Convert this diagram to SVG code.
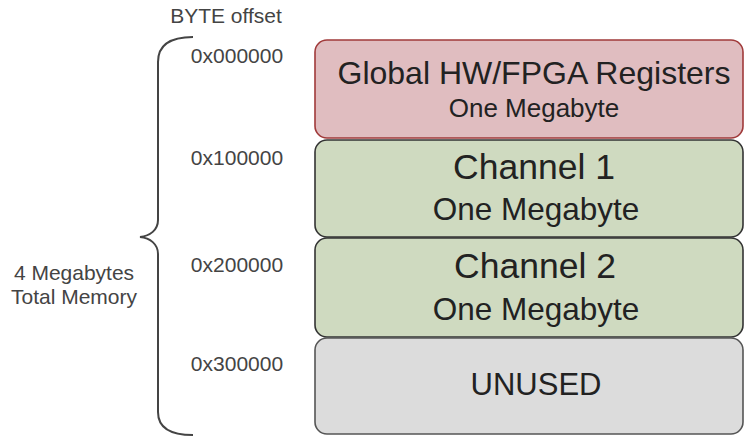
<svg xmlns="http://www.w3.org/2000/svg" width="746" height="436" viewBox="0 0 746 436">
  <style>
    text { font-family: "Liberation Sans", Arial, sans-serif; }
    .lbl { font-size: 21px; fill: #444; text-anchor: middle; }
    .box { stroke-width: 1.6; }
    .t { fill: #222; text-anchor: middle; }
    .red { fill: #e0bdc0; stroke: #a03a3a; }
    .green { fill: #cfdac0; stroke: #333; }
    .gray { fill: #dcdcdc; stroke: #555; }
  </style>
  <rect width="746" height="436" fill="#fff"/>
  <g id="header">
    <text class="lbl" x="226" y="23">BYTE offset</text>
  </g>
  <g id="offsets">
    <text class="lbl" x="237" y="63">0x000000</text>
    <text class="lbl" x="237" y="165">0x100000</text>
    <text class="lbl" x="237" y="272">0x200000</text>
    <text class="lbl" x="237" y="371">0x300000</text>
  </g>
  <g id="total">
    <text class="lbl" x="74" y="280">4 Megabytes</text>
    <text class="lbl" x="74" y="304">Total Memory</text>
  </g>
  <g id="connectors">
    <path d="M193,37 C170,37 158,45 158,62 L158,220 C158,230 150,236 140,237 C150,238 158,244 158,254 L158,412 C158,428 170,435 193,435" fill="none" stroke="#444" stroke-width="2"/>
  </g>
  <g id="global">
    <rect class="box red" x="315" y="40" width="428" height="98" rx="12"/>
    <text class="t" x="534" y="84" font-size="32">Global HW/FPGA Registers</text>
    <text class="t" x="534" y="117" font-size="26">One Megabyte</text>
  </g>
  <g id="channel1">
    <rect class="box green" x="315" y="140" width="428" height="97" rx="12"/>
    <text class="t" x="534" y="179" font-size="35.5">Channel 1</text>
    <text class="t" x="536" y="220" font-size="31.5">One Megabyte</text>
  </g>
  <g id="channel2">
    <rect class="box green" x="315" y="238" width="428" height="99" rx="12"/>
    <text class="t" x="535" y="278" font-size="35.5">Channel 2</text>
    <text class="t" x="536" y="320" font-size="31.5">One Megabyte</text>
  </g>
  <g id="unused">
    <rect class="box gray" x="315" y="338" width="428" height="96" rx="12"/>
    <text class="t" x="536" y="395" font-size="31">UNUSED</text>
  </g>
</svg>
